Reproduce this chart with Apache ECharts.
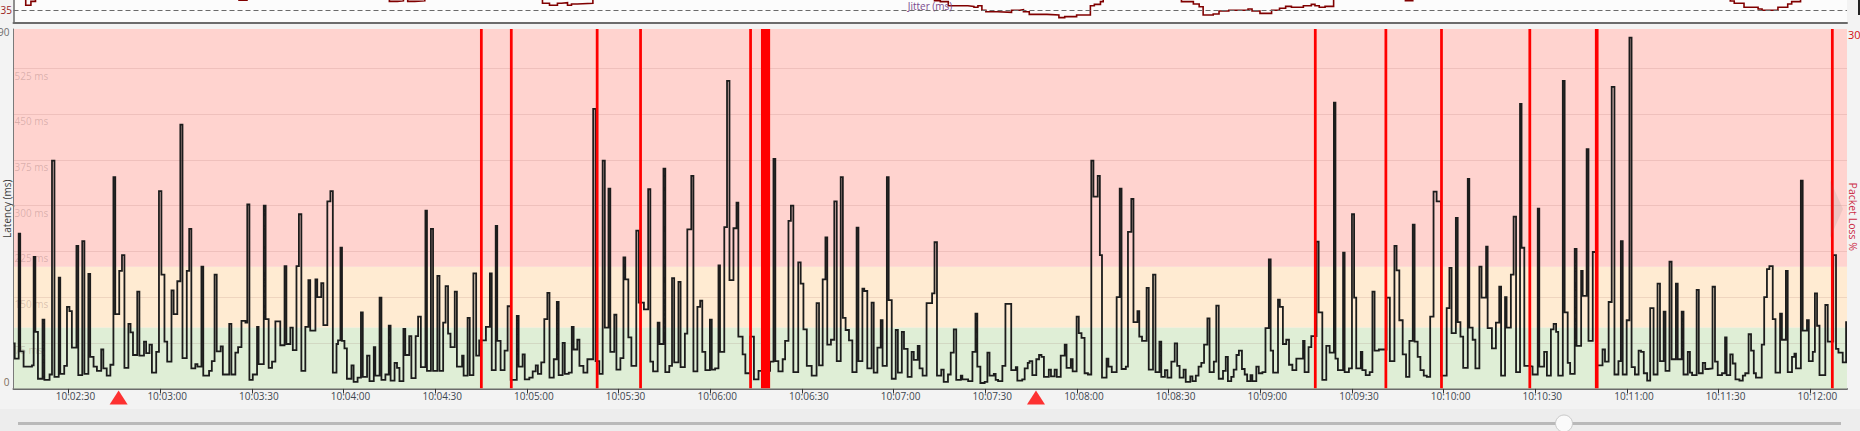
<!DOCTYPE html>
<html>
<head>
<meta charset="utf-8">
<script src="https://cdn.jsdelivr.net/npm/echarts@6/dist/echarts.min.js"></script>
<style>
html,body{margin:0;padding:0;background:#f3f3f3;overflow:hidden;}
#chart{width:1860px;height:431px;}
</style>
</head>
<body>
<div id="chart"></div>
<script>
// ---------------- DATA ----------------
// time window start (all times below are seconds after this instant)
const baseTime = '10:02:12';
const windowSeconds = 600;

const tickLabels = ['10:02:30','10:03:00','10:03:30','10:04:00','10:04:30','10:05:00','10:05:30',
  '10:06:00','10:06:30','10:07:00','10:07:30','10:08:00','10:08:30','10:09:00','10:09:30',
  '10:10:00','10:10:30','10:11:00','10:11:30','10:12:00'];

const latencyGridValues = [75,150,225,300,375,450,525];
const latencyMax = 590;
const latencyBands = [[0,100],[100,200],[200,590]];   // good / warning / bad

// latency samples [seconds after base, ms] (step line)
const latencyPoints = [
[0,74],[0.4,49],[1.7,254],[2.2,61],[3.3,36],[6.05,38],[6.6,216],[7.15,93],[8.0,16],[9.5,113],[10.1,14],[11.8,23],[12.6,374],[13.4,19],[14.8,182],[15.3,24],[16.6,37],[17.5,134],[18.3,127],[19.1,67],[20.6,234],[21.2,22],[22.5,242],[23.2,24],[24.5,188],[25.1,52],[26.2,36],[27.3,29],[28.7,64],[29.4,33],[30.5,21],[31.7,39],[32.7,347],[33.3,122],[34.6,193],[35.5,219],[36.3,34],[37.6,106],[38.3,92],[39.1,55],[40.5,159],[41.2,54],[42.7,77],[43.4,58],[44.5,72],[45.3,26],[46.7,60],[47.6,324],[48.4,187],[49.4,77],[50.3,44],[51.7,161],[52.4,122],[53.6,176],[54.6,433],[55.3,50],[56.7,193],[57.5,262],[58.2,33],[59.5,40],[60.2,36],[61.5,200],[62.1,21],[64.0,29],[64.9,45],[65.8,187],[66.5,61],[67.8,69],[68.5,23],[70.6,106],[71.3,23],[72.6,59],[73.5,68],[74.6,111],[75.9,108],[76.5,302],[77.2,14],[78.3,23],[79.7,101],[80.2,40],[81.9,300],[82.5,114],[83.5,34],[84.6,44],[85.7,110],[87.3,71],[88.7,201],[89.3,73],[90.6,100],[91.4,63],[92.6,201],[93.4,286],[94.2,29],[95.5,101],[96.5,178],[97.1,95],[98.8,179],[99.4,150],[100.7,173],[101.4,104],[102.7,307],[103.7,324],[104.5,26],[105.7,73],[106.2,79],[107.0,231],[107.5,78],[108.3,66],[109.1,16],[110.6,38],[111.3,11],[112.6,18],[113.7,125],[114.3,19],[115.7,54],[116.5,12],[117.9,68],[118.4,21],[119.8,149],[120.4,14],[121.7,23],[122.8,103],[123.4,13],[124.7,42],[125.5,34],[126.3,12],[127.6,98],[128.2,55],[129.5,86],[130.2,17],[131.6,86],[132.4,118],[133.3,35],[134.8,292],[135.3,29],[136.6,262],[137.3,29],[138.7,185],[139.4,29],[140.6,108],[141.4,168],[142.2,90],[143.0,68],[144.4,159],[145.1,36],[146.8,54],[147.3,21],[148.6,116],[149.3,22],[150.5,189],
[151.4,54],[152.4,79],[154.6,101],[155.9,189],[156.5,30],[157.8,267],[158.3,78],[159.4,30],[160.7,62],[161.7,135],[162.7,14],[164.7,119],[165.3,36],[166.6,56],[167.3,15],[168.8,18],[169.9,28],[170.9,38],[171.6,24],[172.7,43],[173.7,114],[174.7,157],[175.4,18],[176.8,48],[177.8,142],[178.4,22],[179.7,75],[180.4,24],[181.7,26],[182.7,101],[183.3,64],[184.5,80],[185.2,37],[186.5,26],[187.8,48],[189.7,459],[190.5,45],[191.7,24],[192.8,374],[193.5,100],[194.7,328],[195.3,60],[196.6,121],[197.3,31],[198.6,50],[199.6,215],[200.2,179],[201.2,84],[202.2,37],[203.8,259],[204.6,141],[206.3,130],[207.7,327],[208.4,44],[209.3,28],[210.8,108],[211.4,73],[212.7,361],[213.3,27],[214.6,37],[215.5,181],[216.2,43],[217.6,175],[218.3,35],[219.7,90],[220.5,261],[221.8,349],[222.5,28],[223.8,134],[224.7,144],[225.4,60],[226.4,30],[227.9,113],[228.5,31],[229.6,33],[230.7,202],[231.2,60],[232.6,265],[233.5,505],[234.3,178],[235.6,263],[236.6,305],[237.2,85],[238.6,56],[239.5,25],[241.1,85],[242.3,15],[243.8,29],[247.6,44],[248.7,377],[249.3,45],[250.3,28],[251.7,48],[252.5,78],[253.6,275],[254.4,300],[255.2,27],[256.8,207],[257.6,172],[258.5,97],[259.6,37],[261.2,21],[262.8,140],[263.6,38],[264.8,179],[265.7,248],[266.3,72],[267.5,80],[268.6,307],[269.4,45],[270.7,347],[271.4,116],[272.3,96],[273.4,79],[274.5,27],[275.9,264],[276.5,45],[277.8,164],[278.4,160],[279.4,33],[280.8,141],[281.5,26],[282.7,67],[283.8,112],[284.4,37],[285.8,347],[286.4,145],[287.4,16],[288.7,96],[289.4,26],[290.7,93],[291.4,65],[292.6,19],[293.9,60],[294.6,47],[295.9,70],[296.5,33],[297.5,21],[298.8,140],
[300.6,156],[301.4,240],[302.2,21],[303.6,31],[304.4,11],[305.8,23],[306.7,59],[307.7,97],[308.5,14],[310.0,21],[310.5,15],[312.4,12],[313.8,60],[314.8,123],[315.4,36],[316.4,9],[317.8,11],[318.7,59],[319.4,21],[320.8,24],[321.4,14],[322.2,12],[323.6,37],[324.6,139],[326.5,30],[328.0,35],[328.5,13],[330.1,15],[330.9,33],[331.9,42],[332.5,45],[333.4,22],[334.7,48],[335.6,55],[336.4,52],[337.2,19],[338.8,31],[339.5,20],[340.7,31],[341.4,19],[342.7,54],[344.0,72],[344.6,34],[346.0,48],[346.6,28],[347.9,118],[348.6,91],[349.5,83],[350.5,25],[351.6,23],[352.7,374],[353.4,315],[354.8,349],[355.5,219],[356.2,18],[357.7,49],[358.3,36],[359.4,27],[361.0,150],[362.0,328],[362.6,32],[364.0,36],[364.7,257],[365.8,311],[366.5,109],[367.8,127],[368.4,85],[369.3,78],[370.8,165],[371.5,31],[372.9,187],[373.7,27],[375.0,77],[375.6,19],[376.8,30],[377.6,18],[378.9,44],[380.0,74],[380.8,37],[381.6,18],[382.9,31],[383.6,11],[385.1,20],[385.8,12],[386.9,21],[387.8,36],[388.7,42],[389.6,72],[390.7,115],[391.4,27],[392.8,44],[393.6,136],[394.4,16],[395.8,29],[396.7,52],[397.4,12],[398.5,19],[399.3,31],[400.2,55],[401.0,62],[402.0,32],[402.9,23],[403.7,12],[404.8,22],[405.4,12],[406.7,36],[407.5,25],[408.7,27],[409.7,99],[410.8,212],[411.4,62],[412.2,26],[413.8,146],[414.4,134],[415.4,73],[416.5,80],[417.4,39],[418.5,30],[419.8,49],[422.0,78],[422.5,27],[423.8,68],[424.7,86],[426.4,241],[427.1,125],[428.3,14],[429.6,70],[430.7,59],[432.1,469],[432.6,49],[433.4,30],[435.1,223],[435.6,27],[437.0,33],[438.0,286],[438.7,149],[439.4,33],[440.9,60],[441.4,30],[442.5,22],[443.8,27],[444.7,159],[445.4,62],[446.8,64],[449.3,149],
[450.4,45],[451.9,234],[452.6,194],[453.5,112],[454.6,56],[455.7,19],[456.8,78],[457.9,269],[458.5,77],[459.5,52],[460.4,30],[461.5,21],[462.5,19],[463.6,118],[464.7,323],[465.7,307],[467.1,21],[469.0,132],[469.9,198],[470.6,91],[472.0,280],[472.6,109],[473.5,85],[474.4,34],[475.9,344],[476.4,100],[477.5,80],[478.4,33],[479.7,200],[480.4,149],[481.9,233],[482.4,99],[483.8,66],[485.1,108],[486.2,167],[486.8,21],[488.1,150],[488.6,100],[490.0,187],[490.9,282],[491.7,27],[493.0,467],[493.5,231],[494.4,37],[496.0,36],[497.1,23],[498.8,295],[499.3,36],[500.9,60],[501.8,21],[503.1,97],[504.0,106],[504.8,93],[505.5,21],[507.0,505],[507.6,125],[508.6,42],[509.4,24],[510.9,229],[511.5,70],[513.0,193],[513.5,152],[514.8,393],[515.4,78],[516.8,224],[518.1,38],[520.0,64],[520.8,44],[522.0,142],[523.0,495],[523.9,23],[525.2,45],[526.0,242],[526.6,23],[527.9,112],[528.8,576],[529.5,35],[530.6,23],[531.8,62],[532.6,60],[533.5,25],[534.6,13],[535.6,132],[536.7,23],[538.0,172],[538.8,45],[540.0,126],[540.6,29],[541.9,208],[542.6,48],[544.0,172],[544.6,48],[545.9,126],[546.5,23],[547.9,60],[548.6,26],[549.3,22],[550.8,162],[551.5,25],[552.8,42],[553.6,32],[554.6,33],[556.0,167],[556.8,44],[557.7,22],[559.1,25],[560.1,84],[560.6,22],[561.8,56],[562.6,41],[563.5,15],[564.8,13],[565.9,21],[566.7,25],[567.8,89],[568.6,62],[569.5,25],[570.2,18],[572.1,72],[572.9,150],[573.8,196],[574.6,201],[575.7,114],[576.6,26],[578.1,123],[578.7,80],[580.0,193],[580.6,27],[582.0,52],[582.8,57],[583.3,33],[584.9,341],[585.5,95],[586.9,112],[587.5,45],[588.8,60],[589.5,156],[590.2,103],[591.0,22],[592.9,137],[593.7,77],[595.5,219],[596.4,65],[597.2,59],[598.6,43],[599.7,109],[600,109]
];

// jitter samples [seconds after base, ms] (upper panel, only its lower part is in view)
const jitterPoints = [
[0,58],[4.0,39],[5.7,42],[7.2,56],[73.8,43],[76.4,60],[123.0,42],[125.6,42.5],[127.6,45],[129.0,42],[131.3,42.5],[134.6,55],[173.1,40.5],[175.4,39],[178.0,40.5],[179.3,41],[181.3,39],[182.6,40],[184.5,40.5],[189.6,57],[301.4,42.5],[303.3,41.8],[305.9,38.6],[312.3,38.1],[314.3,37.4],[315.6,38.6],[316.9,35],[318.2,33.9],[322.0,33.4],[326.6,35],[329.2,35.5],[330.5,33.9],[332.4,31.8],[338.2,31.3],[342.1,29.2],[344.0,30],[347.9,31.3],[352.4,38.6],[353.7,39.7],[355.7,41.8],[356.6,54],[382.2,41.8],[386.1,40],[388.0,37.8],[389.3,31.3],[392.6,32.1],[394.5,34.4],[397.7,35],[404.0,36],[405.3,34.4],[407.9,32.6],[411.7,35],[414.3,36.6],[416.3,38.1],[418.2,37.4],[422.1,38.6],[424.7,39.7],[425.9,38.6],[427.3,37.4],[429.2,38.1],[432.0,55],[455.5,42.6],[457.9,58],[561.8,42.3],[563.1,40.5],[566.3,37.4],[570.9,36],[572.2,35],[577.4,37.4],[580.6,40],[581.9,41.8],[584.8,56],[600,56]
];
const jitterThreshold = 35;
const jitterAxisMin = 25, jitterAxisMax = 125;

// packet loss intervals (seconds after base) and loss %
const lossStartSec = [152.65,162.45,190.55,204.75,240.75,244.6,425.55,448.65,466.85,495.75,517.5,594.75];
const lossEndSec   = [153.55,163.35,191.45,205.65,241.65,247.6,426.45,449.55,467.75,496.65,518.7,595.65];
const lossPercent  = [30,30,30,30,30,30,30,30,30,30,30,30];
const lossMax = 30;

// event markers (seconds after base)
const eventSec = [34.4, 334.6];

// ---------------- CHART ----------------
function toSec(t){ const p = t.split(':').map(Number); return p[0]*3600 + p[1]*60 + p[2]; }
const baseSec = toSec(baseTime);
const tickSec = tickLabels.map(l => toSec(l) - baseSec);

const FONT = '"Open Sans","Noto Sans","DejaVu Sans",sans-serif';
const GL = 13.5, GR = 13;
const bandColors = ['#dfeed6', '#ffebd2', '#ffd3cf'];

const chart = echarts.init(document.getElementById('chart'), null, {renderer: 'svg', width: 1860, height: 431});

const option = {
  animation: false,
  backgroundColor: '#f3f3f3',
  textStyle: {fontFamily: FONT},
  title: {
    text: 'Jitter (ms)', left: 'center', top: 1, padding: 0,
    textStyle: {fontSize: 10, fontWeight: 'normal', color: '#7b4a8e', fontFamily: FONT}
  },
  grid: [
    {left: GL, right: GR, top: 29, bottom: 42.5, containLabel: false, outerBoundsMode: 'none'},
    {left: GL, right: GR, top: -104, height: 127, show: true, backgroundColor: '#fcfcfc', borderWidth: 0,
     containLabel: false, outerBoundsMode: 'none'},
    {left: GL, right: GR, top: 390.5, height: 14, containLabel: false, outerBoundsMode: 'none'}
  ],
  xAxis: [
    {
      gridIndex: 0, type: 'value', min: 0, max: windowSeconds,
      axisLine: {show: true, onZero: false, lineStyle: {color: '#6b6b6b', width: 2}},
      axisTick: {show: true, length: 5, customValues: tickSec, lineStyle: {color: '#333', width: 1}},
      axisLabel: {
        customValues: tickSec, margin: 2, fontSize: 10, color: '#3d4650', fontFamily: FONT,
        padding: [0, 0, 0, 14],
        formatter: v => { const i = tickSec.findIndex(t => Math.abs(t - v) < 1e-6); return i >= 0 ? tickLabels[i] : ''; }
      },
      splitLine: {show: false}
    },
    {
      gridIndex: 1, type: 'value', min: 0, max: windowSeconds,
      axisLine: {show: true, onZero: false, lineStyle: {color: '#6b6b6b', width: 2}},
      axisTick: {show: false}, axisLabel: {show: false}, splitLine: {show: false}
    },
    {gridIndex: 2, type: 'value', min: 0, max: windowSeconds, show: false}
  ],
  yAxis: [
    { // gridlines + inside "ms" labels
      gridIndex: 0, type: 'value', min: 0, max: latencyMax, interval: 75, z: 2,
      axisLine: {show: false}, axisTick: {show: false},
      axisLabel: {
        inside: true, customValues: latencyGridValues, margin: 1,
        verticalAlign: 'top', padding: [2, 0, 0, 0],
        fontSize: 10, color: 'rgba(120,80,80,0.28)', fontFamily: FONT,
        formatter: v => v + ' ms'
      },
      splitLine: {show: true, showMinLine: false, showMaxLine: false, lineStyle: {color: 'rgba(120,60,60,0.12)', width: 1}}
    },
    { // outer left axis: border, end labels, name
      gridIndex: 0, type: 'value', min: 0, max: latencyMax, position: 'left', z: 3,
      name: 'Latency (ms)', nameLocation: 'middle', nameGap: 2, nameMoveOverlap: false,
      nameTextStyle: {fontSize: 10, color: '#3c3c3c', fontFamily: FONT},
      axisLine: {show: true, onZero: false, lineStyle: {color: '#7a7a7a', width: 1}},
      axisTick: {show: false},
      axisLabel: {
        customValues: [0, latencyMax], margin: 4, fontSize: 10, fontFamily: FONT,
        formatter: v => v === 0 ? '{lo|0}' : '{hi|' + v + '}',
        rich: {
          lo: {padding: [0, 0, 14, 0], color: '#7d6e5c', fontSize: 10, fontFamily: FONT},
          hi: {padding: [6, 0, 0, 0], color: '#6e6e6e', fontSize: 10, fontFamily: FONT}
        }
      },
      splitLine: {show: false}
    },
    { // packet loss
      gridIndex: 0, type: 'value', min: 0, max: lossMax, position: 'right',
      name: 'Packet Loss %', nameLocation: 'middle', nameGap: 0, nameRotate: -90, nameMoveOverlap: false,
      nameTextStyle: {fontSize: 10.5, color: '#cc2b45', fontFamily: FONT, padding: [0, 0, 0, 16]},
      axisLine: {show: false}, axisTick: {show: false},
      axisLabel: {
        customValues: [lossMax], margin: 1, fontSize: 11, fontFamily: FONT,
        formatter: v => '{t|' + v + '}',
        rich: {t: {padding: [10, 0, 0, 0], color: '#d40f0f', fontSize: 11, fontFamily: FONT}}
      },
      splitLine: {show: false}
    },
    { // jitter
      gridIndex: 1, type: 'value', min: jitterAxisMin, max: jitterAxisMax,
      axisLine: {show: true, onZero: false, lineStyle: {color: '#6b6b6b', width: 1.5}},
      axisTick: {show: false},
      axisLabel: {customValues: [jitterThreshold], margin: 1.5, fontSize: 10, color: '#9b1c1c', fontFamily: FONT},
      splitLine: {show: false}
    },
    {gridIndex: 2, type: 'value', min: 0, max: 1, show: false}
  ],
  series: [
    {
      name: 'bands', type: 'custom', xAxisIndex: 0, yAxisIndex: 0, z: 1, silent: true,
      data: latencyBands.map(b => [0, b[0], b[1]]),
      encode: {x: 0, y: [1, 2]},
      renderItem: (params, api) => {
        const top = api.coord([0, api.value(2)]);
        const bot = api.coord([0, api.value(1)]);
        const cs = params.coordSys;
        return {type: 'rect', shape: {x: cs.x, y: top[1], width: cs.width, height: bot[1] - top[1]},
                style: {fill: bandColors[params.dataIndex]}};
      }
    },
    {
      name: 'Latency (ms)', type: 'line', step: 'end', xAxisIndex: 0, yAxisIndex: 0, z: 3,
      data: latencyPoints, showSymbol: false, symbol: 'none', sampling: null,
      lineStyle: {color: '#1c1c1c', width: 1.8, join: 'miter'}
    },
    {
      name: 'Packet Loss %', type: 'custom', xAxisIndex: 0, yAxisIndex: 2, z: 4, clip: true,
      data: lossStartSec.map((s, i) => [s, lossEndSec[i], lossPercent[i]]),
      encode: {x: [0, 1], y: 2},
      renderItem: (params, api) => {
        const a = api.coord([api.value(0), api.value(2)]);
        const b = api.coord([api.value(1), 0]);
        return {type: 'rect', shape: {x: a[0], y: a[1], width: b[0] - a[0], height: b[1] - a[1]},
                style: {fill: '#ff0000'}};
      }
    },
    {
      name: 'Jitter (ms)', type: 'line', step: 'end', xAxisIndex: 1, yAxisIndex: 3, z: 3,
      data: jitterPoints, showSymbol: false, symbol: 'none',
      lineStyle: {color: '#800000', width: 1.6, join: 'miter'},
      markLine: {
        silent: true, symbol: ['none', 'none'], label: {show: false},
        lineStyle: {color: '#6a6a6a', type: [5, 3], width: 1},
        data: [{yAxis: jitterThreshold}]
      }
    },
    {
      name: 'events', type: 'scatter', xAxisIndex: 2, yAxisIndex: 4, z: 5,
      data: eventSec.map(s => [s, 0.5]),
      symbol: 'triangle', symbolSize: [18, 14],
      itemStyle: {color: '#ff0000'}
    }
  ],
  graphic: [
    {type: 'rect', shape: {x: 0, y: 409, width: 1860, height: 22}, style: {fill: '#ededed'}, z: -1},
    {type: 'rect', shape: {x: 18, y: 422, width: 1823, height: 3}, style: {fill: '#b9b9b9'}, z: 1},
    {type: 'circle', shape: {cx: 1564, cy: 423.5, r: 8.5}, style: {fill: '#fafafa', stroke: '#c9c9c9', lineWidth: 1}, z: 2},
    {type: 'polygon', shape: {points: [[1830, 180], [1843, 209], [1830, 238]]}, style: {fill: 'rgba(110,110,110,0.12)'}, z: 10},
    {type: 'rect', shape: {x: 1858, y: 0, width: 2, height: 15}, style: {fill: '#222'}, z: 10}
  ]
};
chart.setOption(option);
</script>
</body>
</html>
